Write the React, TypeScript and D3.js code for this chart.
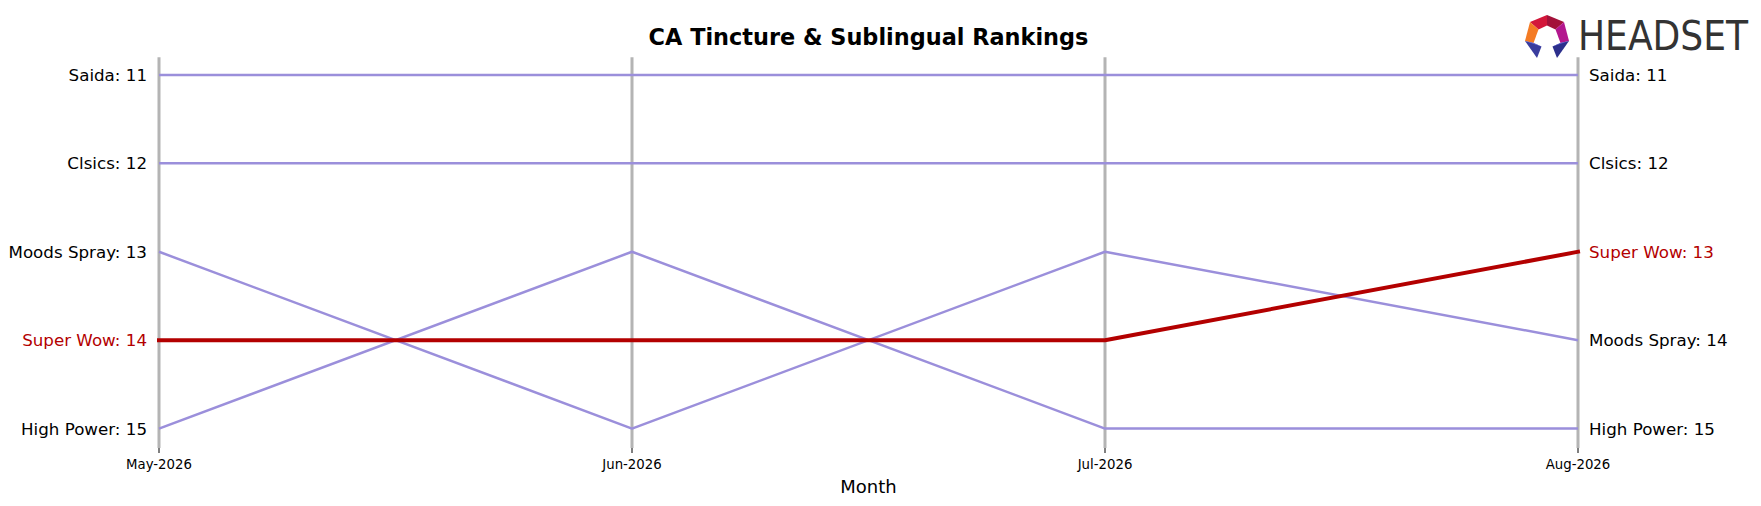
import React from "react";
import * as d3 from "d3";

const months = ["May-2026", "Jun-2026", "Jul-2026", "Aug-2026"];
const brands = ["Saida", "Clsics", "Moods Spray", "Super Wow", "High Power"];
const saidaRanks = [11, 11, 11, 11];
const clsicsRanks = [12, 12, 12, 12];
const moodsRanks = [13, 15, 13, 14];
const superWowRanks = [14, 14, 14, 13];
const highPowerRanks = [15, 13, 15, 15];
const highlight = "Super Wow";

const series = [
  { name: brands[0], ranks: saidaRanks },
  { name: brands[1], ranks: clsicsRanks },
  { name: brands[2], ranks: moodsRanks },
  { name: brands[3], ranks: superWowRanks },
  { name: brands[4], ranks: highPowerRanks },
];

const W = 1761;
const H = 506;
const PURPLE = "#9b8fdb";
const RED = "#b30000";
const GRAY = "#b4b4b4";
const FONT = "'DejaVu Sans', sans-serif";

export default function App() {
  const x = d3.scalePoint<string>().domain(months).range([159, 1578]);
  const y = d3.scaleLinear().domain([10.8, 15.22]).range([57.3, 448]);
  const line = d3
    .line<number>()
    .x((_, i) => x(months[i]) as number)
    .y((d) => y(d));

  const ordered = [...series].sort(
    (a, b) => (a.name === highlight ? 1 : 0) - (b.name === highlight ? 1 : 0)
  );

  return (
    <svg
      width={W}
      height={H}
      style={{ position: "absolute", left: 0, top: 0, background: "#fff" }}
      fontFamily={FONT}
    >
      <rect width={W} height={H} fill="#fff" />
      <text
        x={868.5}
        y={44.5}
        textAnchor="middle"
        fontSize={22.4}
        fontWeight="bold"
        fill="#000"
      >
        CA Tincture &amp; Sublingual Rankings
      </text>

      {months.map((m) => (
        <g key={m}>
          <line
            x1={x(m)}
            x2={x(m)}
            y1={y.range()[0]}
            y2={y.range()[1]}
            stroke={GRAY}
            strokeWidth={3}
          />
          <line
            x1={x(m)}
            x2={x(m)}
            y1={448}
            y2={453}
            stroke="#000"
            strokeWidth={1}
          />
          <text
            x={x(m)}
            y={469}
            textAnchor="middle"
            fontSize={13.3}
            fill="#000"
          >
            {m}
          </text>
        </g>
      ))}

      {ordered.map((s) => {
        const hl = s.name === highlight;
        return (
          <path
            key={s.name}
            d={line(s.ranks) || ""}
            fill="none"
            stroke={hl ? RED : PURPLE}
            strokeWidth={hl ? 4 : 2.5}
            strokeLinecap={hl ? "square" : "butt"}
            strokeLinejoin="round"
          />
        );
      })}

      {series.map((s) => {
        const hl = s.name === highlight;
        return (
          <g key={s.name}>
            <text
              x={147}
              y={y(s.ranks[0])}
              dy="0.36em"
              textAnchor="end"
              fontSize={16.7}
              fill={hl ? RED : "#000"}
            >
              {`${s.name}: ${s.ranks[0]}`}
            </text>
            <text
              x={1589}
              y={y(s.ranks[s.ranks.length - 1])}
              dy="0.36em"
              textAnchor="start"
              fontSize={16.7}
              fill={hl ? RED : "#000"}
            >
              {`${s.name}: ${s.ranks[s.ranks.length - 1]}`}
            </text>
          </g>
        );
      })}

      <text x={868.5} y={493} textAnchor="middle" fontSize={18} fill="#000">
        Month
      </text>

      {/* Logo */}
      <g>
        <polygon points="1547,15 1530,22 1538.5,29.5 1547,25.5" fill="#d3173a" />
        <polygon points="1547,15 1564,22 1555.5,29.5 1547,25.5" fill="#a3123a" />
        <polygon points="1530,22 1525,41 1533.5,43 1538.5,29.5" fill="#f47b24" />
        <polygon points="1564,22 1569,41 1560.5,43 1555.5,29.5" fill="#b3178e" />
        <polygon points="1525,41 1537,58 1541.5,46.5 1533.5,43" fill="#3a3d9e" />
        <polygon points="1525,41 1533.5,43 1541.5,46.5" fill="#6b6fe0" />
        <polygon points="1569,41 1557,58 1552.5,46.5 1560.5,43" fill="#2c2f8c" />
        <polygon points="1569,41 1560.5,43 1552.5,46.5" fill="#5a5fd6" />
        <text
          x={1578}
          y={50}
          fontFamily="'Liberation Sans Narrow', 'DejaVu Sans Condensed', sans-serif"
          fontSize={41.5}
          fill="#333333"
          textLength={170}
          lengthAdjust="spacingAndGlyphs"
        >
          HEADSET
        </text>
      </g>
    </svg>
  );
}
